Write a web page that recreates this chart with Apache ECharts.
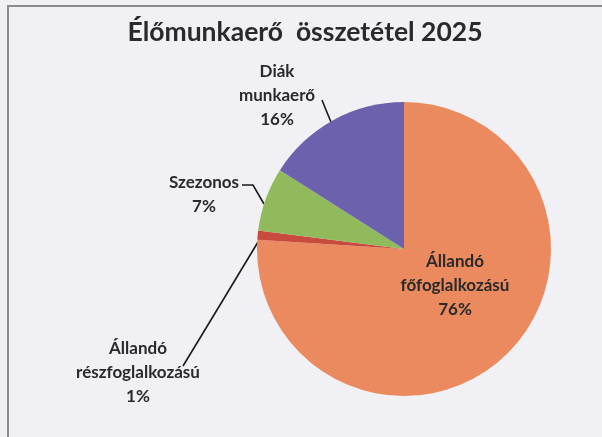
<!DOCTYPE html>
<html>
<head>
<meta charset="utf-8">
<script src="https://cdn.jsdelivr.net/npm/echarts@6/dist/echarts.min.js"></script>
<style>
  html, body { margin: 0; padding: 0; background: #f7f7f9; }
  #wrap { position: relative; width: 602px; height: 437px; overflow: hidden; }
  #chart { position: absolute; left: 0; top: 0; width: 602px; height: 437px; }
  #frame { position: absolute; left: 7px; top: 5px; width: 600px; height: 440px;
           border-left: 2px solid #8c8c8c; border-top: 2px solid #8c8c8c; pointer-events: none; }
</style>
</head>
<body>
<div id="wrap">
  <div id="chart"></div>
  <div id="frame"></div>
</div>
<script>
const title = 'Élőmunkaerő  összetétel 2025';
const categories = ['Állandó\nfőfoglalkozású', 'Állandó\nrészfoglalkozású', 'Szezonos', 'Diák\nmunkaerő'];
const values = [76, 1, 7, 16];
const colors = ['#ea8a5e', '#c94a3e', '#90ba5c', '#6c61ad'];

// label placement (styling only)
const labelPos = [
  { x: 455, y: 286, line: null },
  { x: 138, y: 373, line: [[183, 366], [220, 305], [258, 242]] },
  { x: 204, y: 195, line: [[242, 185], [253, 185], [264, 204]] },
  { x: 277, y: 96, line: [[322, 100], [326, 110], [331, 122]] }
];

const chart = echarts.init(document.getElementById('chart'), null, { renderer: 'canvas' });
chart.setOption({
  backgroundColor: '#f1f1f5',
  animation: false,
  title: {
    text: title,
    left: 300,
    textAlign: 'center',
    top: 14,
    textStyle: { fontFamily: 'Lato', fontSize: 26.5, fontWeight: 'bold', color: '#2a2a2a' }
  },
  series: [{
    type: 'pie',
    center: [404, 249],
    radius: 147,
    startAngle: 90,
    clockwise: true,
    avoidLabelOverlap: false,
    data: categories.map((c, i) => ({
      name: c,
      value: values[i],
      itemStyle: { color: colors[i] },
      label: { position: i === 0 ? 'inside' : 'outside' },
      labelLine: { show: i !== 0 }
    })),
    label: {
      formatter: p => p.name + '\n' + p.value + '%',
      fontFamily: 'Lato',
      fontWeight: 'bold',
      fontSize: 17,
      lineHeight: 24,
      color: '#2a2a2a',
      align: 'center'
    },
    labelLine: {
      lineStyle: { color: '#1a1a1a', width: 1.6 }
    },
    labelLayout: function (params) {
      const lp = labelPos[params.dataIndex];
      const res = { x: lp.x, y: lp.y, align: 'center', verticalAlign: 'middle' };
      if (lp.line) res.labelLinePoints = lp.line;
      return res;
    }
  }]
});
</script>
</body>
</html>
